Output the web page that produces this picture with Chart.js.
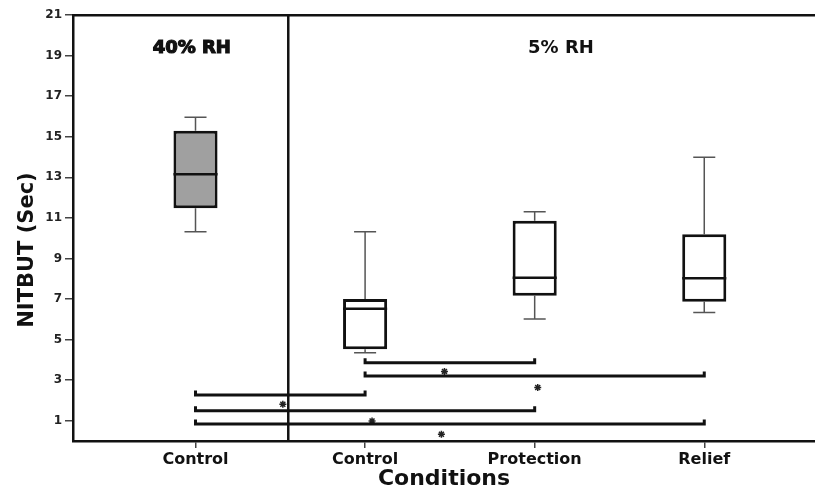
<!DOCTYPE html>
<html>
<head>
<meta charset="utf-8">
<script src="https://cdn.jsdelivr.net/npm/chart.js@4.4.1/dist/chart.umd.min.js"></script>
<style>
    body { margin: 0; background: #fff; }
</style>
</head>
<body>
<canvas id="chart" width="815" height="486"></canvas>
<script>
    // groups on the x axis (box position = tick position)
    const categories = ["Control", "Control", "Protection", "Relief"];
    const xPositions = [1, 2, 3, 4];
    const yTicks = [1, 3, 5, 7, 9, 11, 13, 15, 17, 19, 21];

    // box plot values
    const whiskerLow = [10.32, 4.35, 6.01, 6.34];
    const q1 = [11.47, 4.52, 7.16, 6.87];
    const median = [13.15, 6.52, 8.05, 8.02];
    const q3 = [15.3, 7.0, 10.86, 10.19];
    const whiskerHigh = [15.96, 10.32, 11.3, 13.99];
    const boxFill = ["#a0a0a0", "#ffffff", "#ffffff", "#ffffff"];

    // significance brackets: from group, to group, height
    const bracketFrom = [2, 2, 1, 1, 1];
    const bracketTo = [3, 4, 2, 3, 4];
    const bracketY = [3.86, 3.2, 2.27, 1.49, 0.84];
    const starX = [2.468, 3.018, 1.515, 2.041, 2.45];
    const starY = [3.43, 2.64, 1.81, 0.99, 0.33];

    // RH sections
    const dividerX = 1.547;
    const sectionLabels = ["40% RH", "5% RH"];
    const sectionX = [0.978, 3.155];
    const sectionY = 19.37;

    const boxWidth = 0.26;
    const capHalf = 0.065;
    const bracketEnd = 0.22;

    const whiskerPts = [];
    const medianPts = [];
    xPositions.forEach(function (x, i) {
        whiskerPts.push({ x: x, y: q3[i] }, { x: x, y: whiskerHigh[i] }, { x: x, y: null });
        whiskerPts.push({ x: x - capHalf, y: whiskerHigh[i] }, { x: x + capHalf, y: whiskerHigh[i] }, { x: x, y: null });
        whiskerPts.push({ x: x, y: q1[i] }, { x: x, y: whiskerLow[i] }, { x: x, y: null });
        whiskerPts.push({ x: x - capHalf, y: whiskerLow[i] }, { x: x + capHalf, y: whiskerLow[i] }, { x: x, y: null });
        medianPts.push({ x: x - boxWidth / 2, y: median[i] }, { x: x + boxWidth / 2, y: median[i] }, { x: x, y: null });
    });

    const bracketSets = bracketFrom.map(function (a, i) {
        const b = bracketTo[i];
        const y = bracketY[i];
        return {
            type: "line",
            data: [
                { x: a, y: y + bracketEnd },
                { x: a, y: y },
                { x: b, y: y },
                { x: b, y: y + bracketEnd },
            ],
            borderColor: "#111",
            borderWidth: 3,
            pointRadius: 0,
            order: 0,
        };
    });

    const font = "DejaVu Sans";

    const textPlugin = {
        id: "texts",
        afterDraw(chart) {
            const ctx = chart.ctx;
            const xs = chart.scales.x;
            const ys = chart.scales.y;
            const area = chart.chartArea;
            ctx.save();
            ctx.fillStyle = "#111";
            ctx.strokeStyle = "#111";
            ctx.textAlign = "center";
            ctx.textBaseline = "middle";
            sectionLabels.forEach(function (t, i) {
                ctx.font = "bold 18px " + font;
                const px = xs.getPixelForValue(sectionX[i]);
                const py = ys.getPixelForValue(sectionY);
                ctx.fillText(t, px, py);
                if (i === 0) {
                    ctx.lineWidth = 1.2;
                    ctx.strokeText(t, px, py);
                }
            });
            // y axis title
            ctx.translate(28, (area.top + area.bottom) / 2 + 22);
            ctx.rotate(-Math.PI / 2);
            ctx.font = "bold 21px " + font;
            ctx.fillText("NITBUT (Sec)", 0, 0);
            ctx.restore();
        },
    };

    const chart = new Chart(document.getElementById("chart"), {
        data: {
            datasets: [
                {
                    type: "line",
                    data: medianPts,
                    borderColor: "#111",
                    borderWidth: 2.5,
                    pointRadius: 0,
                    spanGaps: false,
                    order: 0,
                },
                {
                    type: "bar",
                    data: xPositions.map(function (x, i) {
                        return { x: x, y: [q1[i], q3[i]] };
                    }),
                    backgroundColor: boxFill,
                    borderColor: "#111",
                    borderWidth: 3,
                    borderSkipped: false,
                    categoryPercentage: 1,
                    barPercentage: boxWidth,
                    order: 1,
                },
                {
                    type: "line",
                    data: whiskerPts,
                    borderColor: "#555",
                    borderWidth: 1.5,
                    pointRadius: 0,
                    spanGaps: false,
                    order: 2,
                },
                {
                    type: "line",
                    data: [
                        { x: dividerX, y: 0 },
                        { x: dividerX, y: 21 },
                    ],
                    borderColor: "#111",
                    borderWidth: 2.5,
                    pointRadius: 0,
                    order: 0,
                },
                ...bracketSets,
                {
                    type: "scatter",
                    data: starX.map(function (x, i) {
                        return { x: x, y: starY[i] };
                    }),
                    pointStyle: "star",
                    radius: 3.5,
                    borderColor: "#222",
                    backgroundColor: "#222",
                    borderWidth: 1.5,
                    order: 0,
                },
            ],
        },
        options: {
            responsive: false,
            animation: false,
            layout: { autoPadding: false, padding: { top: 15, left: 0, right: 0, bottom: 0 } },
            plugins: {
                legend: { display: false },
                tooltip: { enabled: false },
            },
            scales: {
                x: {
                    type: "linear",
                    offset: false,
                    min: 0.2776,
                    max: 4.653,
                    afterBuildTicks: function (scale) {
                        scale.ticks = xPositions.map(function (v) {
                            return { value: v };
                        });
                    },
                    afterFit: function (scale) {
                        scale.height = 45;
                        scale.paddingLeft = 0;
                        scale.paddingRight = 0;
                    },
                    ticks: {
                        autoSkip: false,
                        maxRotation: 0,
                        padding: 2,
                        color: "#111",
                        font: { family: font, size: 16, weight: "bold" },
                        callback: function (v) {
                            return categories[xPositions.indexOf(v)];
                        },
                    },
                    grid: {
                        offset: false,
                        drawOnChartArea: false,
                        drawTicks: true,
                        tickLength: 7,
                        color: "#444",
                        lineWidth: 1.5,
                    },
                    border: { color: "#111", width: 2.5 },
                    title: {
                        display: true,
                        text: "Conditions",
                        color: "#111",
                        font: { family: font, size: 22, weight: "bold", lineHeight: 1 },
                        padding: { top: 0, bottom: -4 },
                    },
                },
                x2: {
                    type: "linear",
                    position: "top",
                    offset: false,
                    min: 0,
                    max: 1,
                    afterFit: function (scale) {
                        scale.height = 0;
                        scale.paddingLeft = 0;
                        scale.paddingRight = 0;
                    },
                    ticks: { display: false },
                    grid: { display: false, drawTicks: false, offset: false },
                    border: { color: "#111", width: 2.5 },
                },
                y: {
                    min: 0,
                    max: 21,
                    afterBuildTicks: function (scale) {
                        scale.ticks = yTicks.map(function (v) {
                            return { value: v };
                        });
                    },
                    afterFit: function (scale) {
                        scale.width = 73;
                    },
                    ticks: {
                        padding: 3,
                        color: "#222",
                        font: { family: font, size: 12, weight: "bold" },
                    },
                    grid: {
                        drawOnChartArea: false,
                        drawTicks: true,
                        tickLength: 8,
                        color: "#444",
                        lineWidth: 1.5,
                    },
                    border: { color: "#111", width: 2.5 },
                },
            },
        },
        plugins: [textPlugin],
    });
</script>
</body>
</html>
